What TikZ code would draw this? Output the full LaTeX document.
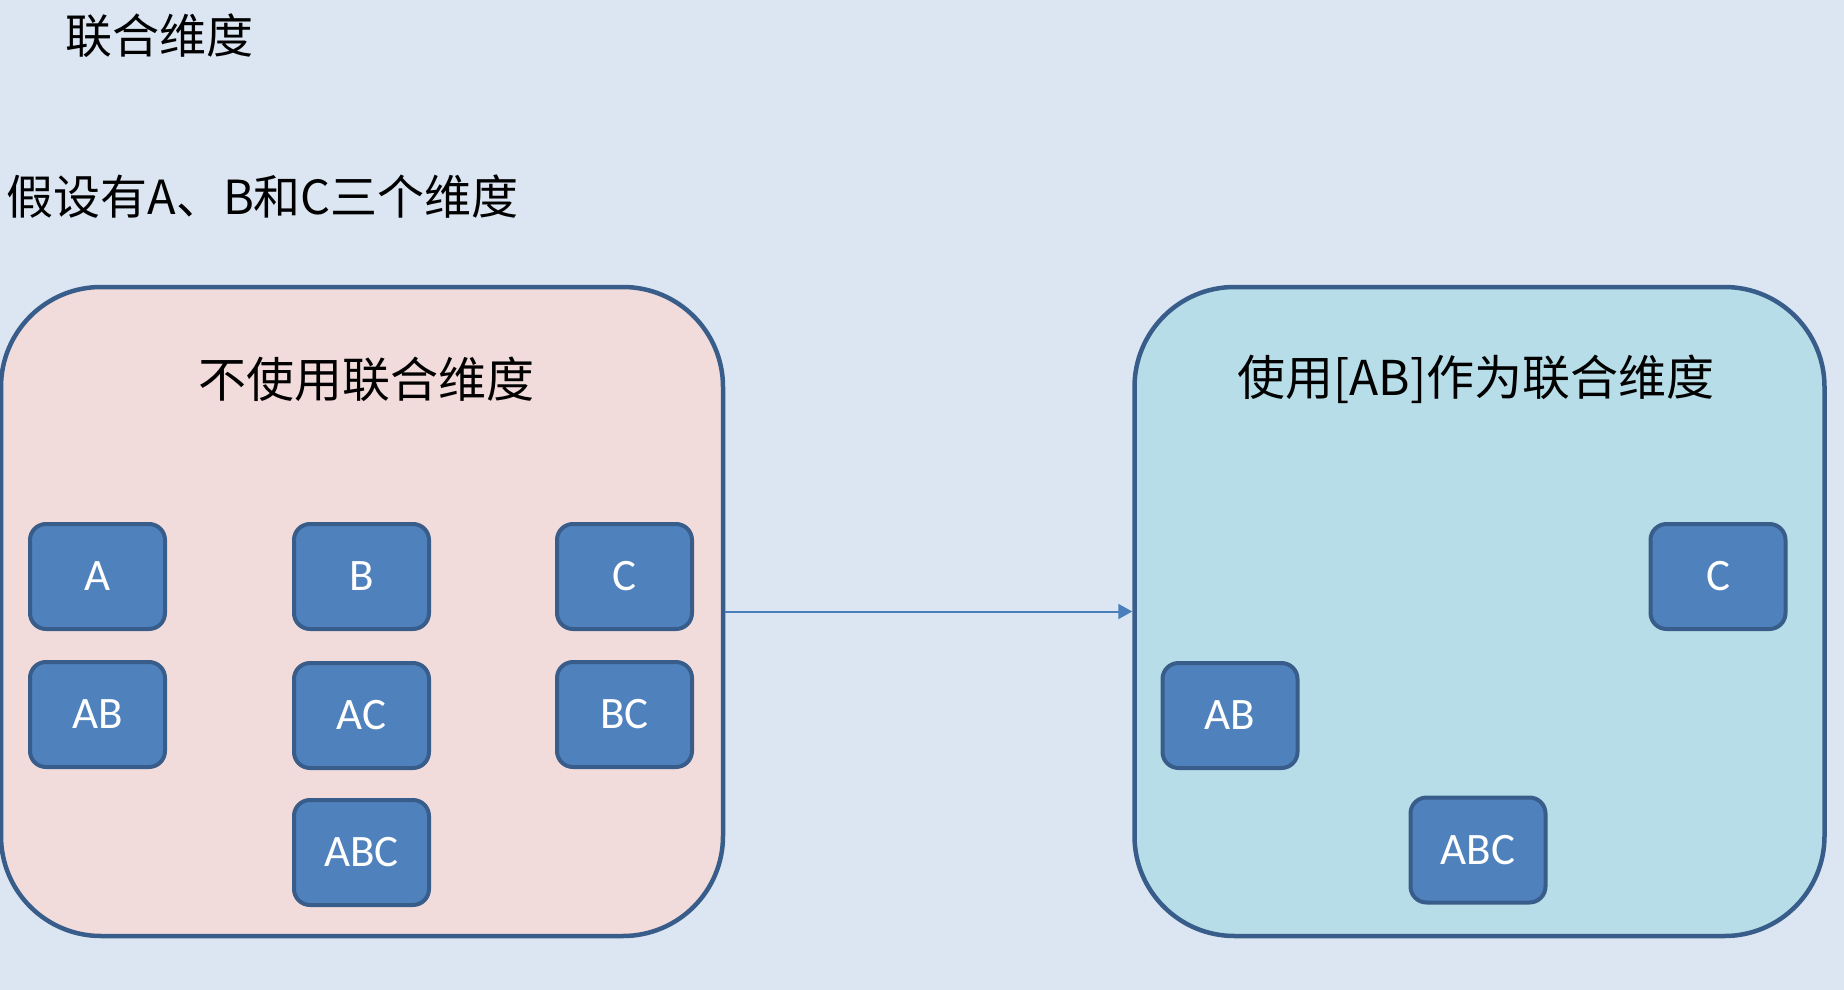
\documentclass[tikz,border=0pt]{standalone}
\usepackage{fontspec}
\setmainfont{Carlito}
\newfontfamily\cjk{Noto Sans CJK SC}
\usetikzlibrary{arrows.meta}
\definecolor{pagebg}{HTML}{DCE6F2}
\definecolor{plainfill}{HTML}{F2DCDB}
\definecolor{jointfill}{HTML}{B7DEE8}
\definecolor{dimfill}{HTML}{4F81BD}
\definecolor{dimline}{HTML}{385D8A}
\definecolor{arrowblue}{HTML}{4A7EBB}

\begin{document}
\begin{tikzpicture}[x=1pt,y=-1pt,
  panel/.style={draw=dimline,line width=4.5pt,rounded corners=100pt,minimum height=649pt,inner sep=0pt},
  dimbox/.style={draw=dimline,fill=dimfill,line width=4pt,rounded corners=16pt,minimum width=135pt,minimum height=105pt,text=white,font=\fontsize{45}{45}\selectfont},
  caption/.style={font=\cjk\fontsize{47}{47}\selectfont},
  paneltitle/.style={font=\cjk\fontsize{48}{48}\selectfont}]
\fill[pagebg] (0,0) rectangle (1844,990);
\useasboundingbox (0,0) rectangle (1844,990);
\node[caption] (title) at (159,36) {联合维度};
\node[caption,anchor=west] (intro) at (3,197) {假设有A、B和C三个维度};
\node[panel,fill=plainfill,minimum width=722pt] (plain) at (362,611.5) {};
\node[panel,fill=jointfill,minimum width=690pt] (joint) at (1479.5,611.5) {};
\node[paneltitle] (plaintitle) at (366,379) {不使用联合维度};
\node[paneltitle] (jointtitle) at (1476,379) {使用[AB]作为联合维度};
\node[dimbox] (a) at (97.5,576.5) {A};
\node[dimbox] (b) at (361.5,576.5) {B};
\node[dimbox] (c) at (624.5,576.5) {C};
\node[dimbox] (ab) at (97.5,714.5) {AB};
\node[dimbox] (ac) at (361.5,715.5) {AC};
\node[dimbox] (bc) at (624.5,714.5) {BC};
\node[dimbox] (abc) at (361.5,852.5) {ABC};
\node[dimbox] (jc) at (1718,576.5) {C};
\node[dimbox] (jab) at (1230,715.5) {AB};
\node[dimbox] (jabc) at (1478,850) {ABC};
\draw[arrowblue,line width=2pt,-{Triangle[length=14pt,width=15pt]}] (plain.east) -- (joint.west);
\end{tikzpicture}
\end{document}
